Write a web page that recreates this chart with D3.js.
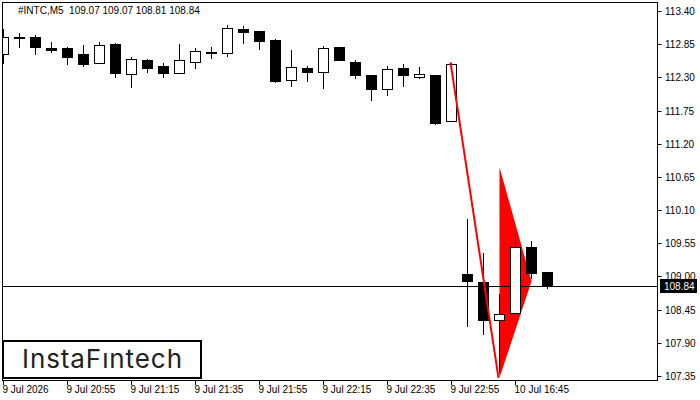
<!DOCTYPE html>
<html>
<head>
<meta charset="utf-8">
<title>INTC M5</title>
<script src="https://d3js.org/d3.v7.min.js"></script>
<style>
  body { margin: 0; background: #fff; }
  svg { display: block; }
  .axis text { font: 10px 'Liberation Sans', Arial, sans-serif; fill: #000; }
</style>
</head>
<body>
<svg id="chart" width="700" height="400"></svg>
<script>
// candle data (5 min bars)
const opens  = [112.69,112.96,112.97,112.78,112.79,112.69,112.54,112.85,112.35,112.59,112.49,112.38,112.55,112.72,112.70,113.10,113.07,112.92,112.25,112.45,112.39,112.80,112.55,112.34,112.10,112.46,112.31,112.34,111.57,109.04,108.91,108.27,108.39,109.49,109.07];
const highs  = [113.10,113.04,113.01,112.89,112.80,112.84,112.89,112.87,112.63,112.61,112.54,112.85,112.79,112.81,113.16,113.15,113.07,112.94,112.75,112.49,112.82,112.80,112.59,112.34,112.49,112.52,112.47,112.34,112.54,109.95,109.39,108.71,109.72,109.59,109.07];
const lows   = [112.54,112.81,112.69,112.72,112.52,112.49,112.53,112.30,112.14,112.39,112.30,112.38,112.46,112.62,112.65,112.87,112.77,112.23,112.16,112.24,112.12,112.58,112.29,111.93,112.00,112.16,112.29,111.53,111.57,108.18,108.05,107.42,108.39,108.97,108.81];
const closes = [112.97,112.97,112.81,112.75,112.64,112.52,112.84,112.37,112.60,112.46,112.38,112.59,112.73,112.72,113.11,113.06,112.91,112.24,112.47,112.39,112.78,112.58,112.34,112.11,112.44,112.34,112.36,111.55,112.52,108.93,108.27,108.37,109.48,109.06,108.84];

const priceTicks = [107.35,107.90,108.45,109.00,109.55,110.10,110.65,111.20,111.75,112.30,112.85,113.40];
const timeTickIdx = [0,4,8,12,16,20,24,28,32];
const timeLabels = ['9 Jul 2026','9 Jul 20:55','9 Jul 21:15','9 Jul 21:35','9 Jul 21:55','9 Jul 22:15','9 Jul 22:35','9 Jul 22:55','10 Jul 16:45'];

const lastPrice = 108.84;
const header = '#INTC,M5  109.07 109.07 108.81 108.84';

// pennant pattern: pole from bar 28 high to bar 31, flag between bars 31 and 33
const poleIdx = [28, 31];
const polePrice = [112.55, 107.32];
const flagIdx = [31, 31, 33];
const flagPrice = [110.81, 107.32, 108.92];

const svg = d3.select('#chart');
const plotL = 2, plotR = 657, plotT = 2, plotB = 380;

const x = d3.scaleLinear().domain([0, 34]).range([3.5, 547.5]);
const y = d3.scaleLinear().domain([107.35, 113.40]).range([376, 11]);
const py = v => Math.round(y(v));

svg.append('clipPath').attr('id', 'plot')
  .append('rect').attr('x', plotL).attr('y', plotT).attr('width', plotR - plotL).attr('height', plotB - plotT);

const g = svg.append('g').attr('clip-path', 'url(#plot)');

// flag triangle
g.append('path')
  .attr('d', d3.line()(flagIdx.map((d, i) => [x(d), y(flagPrice[i])])) + 'Z')
  .attr('fill', '#ff0000');

// last price line
g.append('line')
  .attr('x1', plotL).attr('x2', plotR)
  .attr('y1', py(lastPrice) + 0.5).attr('y2', py(lastPrice) + 0.5)
  .attr('stroke', '#000').attr('stroke-width', 1);

// candles
const bars = g.selectAll('.bar').data(opens.map((o, i) => ({i, o, h: highs[i], l: lows[i], c: closes[i]})))
  .enter().append('g').attr('class', 'bar');

bars.append('line')
  .attr('x1', d => x(d.i)).attr('x2', d => x(d.i))
  .attr('y1', d => py(d.h)).attr('y2', d => py(d.l) + 1)
  .attr('stroke', '#000').attr('stroke-width', 1);

bars.append('rect')
  .attr('x', d => d.c >= d.o ? x(d.i) - 5 : x(d.i) - 5.5)
  .attr('width', d => d.c >= d.o ? 10 : 11)
  .attr('y', d => d.c >= d.o ? py(d.c) + 0.5 : py(d.o))
  .attr('height', d => d.c >= d.o ? Math.max(1, py(d.o) - py(d.c)) : Math.max(2, py(d.c) - py(d.o) + 1))
  .attr('fill', d => d.c >= d.o ? '#fff' : '#000')
  .attr('stroke', d => d.c >= d.o ? '#000' : 'none')
  .attr('stroke-width', 1);

// pole
g.append('path')
  .attr('d', d3.line()(poleIdx.map((d, i) => [x(d) - 1, y(polePrice[i])])))
  .attr('stroke', '#ff0000').attr('stroke-width', 2).attr('fill', 'none');

// frame
svg.append('rect')
  .attr('x', plotL + 0.5).attr('y', plotT + 0.5)
  .attr('width', plotR - plotL).attr('height', plotB - plotT)
  .attr('fill', 'none').attr('stroke', '#000');

// price axis
const yAxis = svg.append('g').attr('class', 'axis');
yAxis.selectAll('line').data(priceTicks).enter().append('line')
  .attr('x1', plotR + 0.5).attr('x2', plotR + 4.5)
  .attr('y1', d => py(d) + 0.5).attr('y2', d => py(d) + 0.5)
  .attr('stroke', '#000');
yAxis.selectAll('text').data(priceTicks).enter().append('text')
  .attr('x', 665).attr('y', d => py(d) + 4)
  .text(d => d.toFixed(2));

// last price label
svg.append('rect')
  .attr('x', 660).attr('y', py(lastPrice) - 7)
  .attr('width', 37).attr('height', 14).attr('fill', '#000');
svg.append('text')
  .attr('x', 664).attr('y', py(lastPrice) + 4)
  .style('font', "10px 'Liberation Sans', Arial, sans-serif")
  .attr('fill', '#fff')
  .text(lastPrice.toFixed(2));

// time axis
const xAxis = svg.append('g').attr('class', 'axis');
xAxis.selectAll('line').data(timeTickIdx).enter().append('line')
  .attr('x1', d => x(d)).attr('x2', d => x(d))
  .attr('y1', plotB).attr('y2', plotB + 5)
  .attr('stroke', '#000');
xAxis.selectAll('text').data(timeTickIdx).enter().append('text')
  .attr('x', d => x(d) - 1).attr('y', 393)
  .text((d, i) => timeLabels[i]);

// header
svg.append('text')
  .attr('x', 18).attr('y', 14)
  .style('font', "10px 'Liberation Sans', Arial, sans-serif")
  .style('white-space', 'pre')
  .attr('xml:space', 'preserve')
  .text(header);

// logo
svg.append('rect')
  .attr('x', 3).attr('y', 341).attr('width', 198).attr('height', 37)
  .attr('fill', '#fff').attr('stroke', '#000').attr('stroke-width', 2);
svg.append('text')
  .attr('x', 102).attr('y', 368)
  .attr('text-anchor', 'middle')
  .attr('textLength', 160)
  .style('font', "400 26px Inter, 'Open Sans', sans-serif")
  .attr('fill', '#222')
  .text('InstaFıntech');
</script>
</body>
</html>
